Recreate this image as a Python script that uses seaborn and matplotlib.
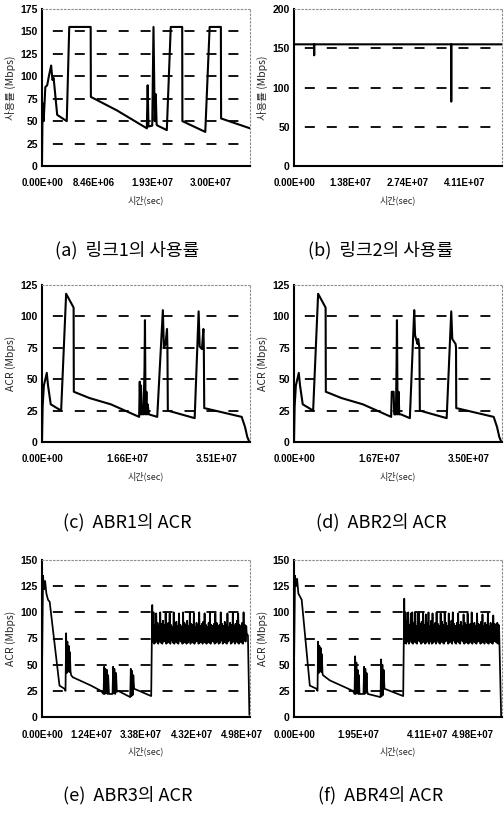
import numpy as np
import matplotlib
matplotlib.use("Agg")
import matplotlib.pyplot as plt
import seaborn as sns

# x values are positions along the (category-like) time axis, 0-100
# (a) link 1 utilisation
a_t = [0, 0.3, 0.8, 1.6, 2.5, 3.3, 4.4, 5.0, 5.6, 7.3,
       11.9, 13.1, 23.4, 23.5, 26, 36, 50.4, 50.8, 51.2, 53.0,
       53.6, 54.2, 54.7, 55.1, 55.6, 60, 61.9, 67.4, 67.5, 78.5,
       80.6, 86.0, 86.1, 100]
a_rate = [5, 70, 50, 88, 90, 100, 112, 96, 98, 57,
          50, 155, 155, 77, 74, 62, 42, 90, 44, 45,
          155, 50, 80, 46, 45, 40, 155, 155, 50, 38,
          155, 155, 53, 42]

# (b) link 2 utilisation
b_t = [0, 9.6, 9.7, 9.8, 75.5, 75.6, 75.7, 100]
b_rate = [155, 155, 141, 155, 155, 82, 155, 155]

# (c) ABR1 ACR
c_t = [0, 0.3, 0.9, 2.3, 2.9, 4.2, 9.2, 11.6, 15.2, 15.3,
       22.8, 33.1, 46.7, 47.0, 47.3, 47.6, 48.0, 48.3, 48.8, 49.3,
       49.5, 49.8, 50.2, 50.5, 50.8, 51.4, 55.4, 58.1, 58.6, 59.4,
       60.1, 60.3, 60.5, 73.4, 75.3, 75.8, 76.9, 77.6, 77.8, 78.0,
       96.0, 97.6, 98.7, 99.7]
c_acr = [0, 28, 45, 55, 45, 30, 25, 118, 107, 40,
         35, 30, 20, 48, 22, 45, 22, 28, 22, 60,
         97, 22, 40, 22, 30, 22, 20, 105, 75, 78,
         90, 75, 25, 19, 104, 76, 74, 90, 75, 27,
         20, 12, 4, 0]

# (d) ABR2 ACR
d_t = [0, 0.3, 0.9, 2.3, 2.9, 4.2, 9.2, 11.6, 15.2, 15.3,
       22.8, 33.1, 46.7, 47.0, 47.9, 48.2, 49.0, 49.3, 49.5, 49.8,
       50.3, 50.6, 51.4, 55.7, 57.8, 58.2, 59.4, 59.7, 60.3, 60.5,
       73.4, 75.6, 76.1, 76.9, 77.7, 77.9, 78.0, 96.0, 97.6, 98.7,
       99.7]
d_acr = [0, 28, 45, 55, 45, 30, 25, 118, 107, 40,
         35, 30, 20, 40, 40, 22, 22, 60, 97, 22,
         40, 22, 22, 19, 105, 85, 78, 82, 75, 25,
         19, 104, 82, 80, 78, 75, 27, 20, 12, 4,
         0]

# (e) ABR3 ACR
e_t = [0, 0.5, 1.0, 1.5, 2.1, 2.9, 3.7, 8.4, 10.8, 11.3,
       11.6, 11.9, 12.2, 12.5, 12.8, 13.1, 13.4, 13.7, 14.0,
       14.8, 23.6, 28.3, 29.6,
       29.9, 30.2, 30.5, 30.8, 31.2, 31.5, 31.8, 32.2, 32.8,
       33.9, 34.2, 34.5, 34.8, 35.2, 35.6, 36.0, 36.6,
       42.4, 42.7, 43.0, 43.3, 43.6, 43.9, 44.3, 52.5, 53.0]
e_acr = [40, 135, 122, 130, 118, 112, 110, 30, 27, 25,
         80, 42, 72, 45, 68, 43, 62, 44, 40,
         38, 30, 25, 22,
         48, 22, 46, 23, 45, 22, 40, 22, 22,
         22, 48, 23, 46, 22, 42, 24, 25,
         19, 46, 20, 44, 21, 40, 27, 20, 107]
e_band_hi = [100, 88, 99, 90, 87, 100, 89, 92, 88, 100,
             87, 90, 99, 88, 86, 100, 89, 91, 87, 99,
             88, 86, 100, 90, 88, 92, 87, 100, 89, 88,
             99, 86, 90, 88, 100, 87, 89, 91, 99, 88,
             86, 90, 100, 88, 87, 89, 99, 90, 86, 88,
             100, 89, 87, 91, 88, 99, 86, 90, 88, 100,
             87, 89, 92, 99, 88, 86, 90, 100, 88, 87]
e_band_lo = [72, 70, 71, 73, 70, 72, 71, 70, 72, 73,
             70, 71, 72, 70, 73, 71, 70, 72, 71, 70,
             73, 72, 70, 71, 72, 70, 71, 73, 70, 72,
             71, 70, 72, 73, 70, 71, 72, 70, 73, 71,
             70, 72, 71, 70, 73, 72, 70, 71, 72, 70,
             71, 73, 70, 72, 71, 70, 72, 73, 70, 71,
             72, 70, 73, 71, 70, 72, 71, 70, 73, 72]
e_tail_t = [98.4, 99.0, 99.7]
e_tail_acr = [80, 78, 2]

# (f) ABR4 ACR
f_t = [0, 0.5, 1.0, 1.5, 2.1, 2.9, 3.7, 7.6, 10.8, 11.3,
       11.6, 11.9, 12.2, 12.5, 12.8, 13.1, 13.4, 13.7, 13.9,
       17.2, 22.8, 28.3, 29.1,
       29.4, 29.7, 30.0, 30.3, 30.6, 30.9, 31.2, 31.5, 31.8,
       33.4, 33.7, 34.0, 34.3, 34.6, 34.9, 35.2, 35.5,
       41.6, 41.9, 42.2, 42.5, 42.8, 43.1, 43.5, 52.5, 53.0]
f_acr = [45, 135, 125, 132, 118, 115, 112, 30, 27, 25,
         72, 42, 68, 44, 66, 43, 60, 42, 40,
         35, 30, 25, 22,
         58, 22, 52, 23, 45, 22, 40, 22, 22,
         22, 48, 22, 46, 23, 42, 25, 22,
         19, 55, 20, 50, 21, 45, 27, 20, 113]
f_band_hi = [100, 92, 100, 88, 99, 100, 90, 100, 87, 99,
             100, 89, 91, 100, 88, 98, 90, 100, 87, 92,
             99, 88, 90, 100, 89, 87, 99, 91, 88, 100,
             90, 87, 99, 88, 92, 100, 89, 87, 90, 99,
             88, 91, 87, 98, 90, 88, 99, 87, 89, 100,
             88, 90, 87, 99, 89, 88, 91, 98, 87, 90,
             88, 99, 87, 90, 88, 97, 89, 87, 90, 88]
f_band_lo = [71, 70, 72, 70, 73, 71, 70, 72, 71, 70,
             73, 72, 70, 71, 72, 70, 71, 73, 70, 72,
             70, 71, 72, 70, 73, 71, 70, 72, 71, 70,
             72, 73, 70, 71, 72, 70, 73, 71, 70, 72,
             71, 70, 73, 72, 70, 71, 72, 70, 71, 73,
             70, 72, 71, 70, 72, 73, 70, 71, 72, 70,
             73, 71, 70, 72, 71, 70, 73, 72, 71, 70]
f_tail_t = [98.6, 99.6]
f_tail_acr = [85, 0]

# tick labels (positions on the 0-100 axis)
a_xticks = [0, 25, 53, 81]
a_xlabels = ["0.00E+00", "8.46E+06", "1.93E+07", "3.00E+07"]
b_xticks = [0, 27, 54.7, 82]
b_xlabels = ["0.00E+00", "1.38E+07", "2.74E+07", "4.11E+07"]
c_xticks = [0, 41, 84]
c_xlabels = ["0.00E+00", "1.66E+07", "3.51E+07"]
d_xticks = [0, 41, 84]
d_xlabels = ["0.00E+00", "1.67E+07", "3.50E+07"]
e_xticks = [0, 23.5, 47.5, 72, 96]
e_xlabels = ["0.00E+00", "1.24E+07", "3.38E+07", "4.32E+07", "4.98E+07"]
f_xticks = [0, 31, 64, 96]
f_xlabels = ["0.00E+00", "1.95E+07", "4.11E+07", "4.98E+07"]

captions = ["(a)  링크1의 사용률", "(b)  링크2의 사용률",
            "(c)  ABR1의 ACR", "(d)  ABR2의 ACR",
            "(e)  ABR3의 ACR", "(f)  ABR4의 ACR"]


def with_band(t, y, hi, lo, tail_t, tail_y):
    # dense oscillation section: alternating trough / peak samples
    bt = np.linspace(t[-1] + 0.3, tail_t[0] - 0.2, 2 * len(hi))
    by = np.ravel(np.column_stack([lo, hi]))
    return (np.concatenate([t, bt, tail_t]), np.concatenate([y, by, tail_y]))


e_x, e_y = with_band(e_t, e_acr, e_band_hi, e_band_lo, e_tail_t, e_tail_acr)
f_x, f_y = with_band(f_t, f_acr, f_band_hi, f_band_lo, f_tail_t, f_tail_acr)

sns.set_theme(style="white")
plt.rcParams["font.family"] = ["Liberation Sans Narrow", "Liberation Sans", "DejaVu Sans"]
plt.rcParams["lines.scale_dashes"] = False
KR = ["Noto Sans CJK KR", "DejaVu Sans"]

fig = plt.figure(figsize=(5.04, 8.14), dpi=100)
W, H = 504, 814

panels = [
    (a_t, a_rate, 175, 25, a_xticks, a_xlabels, "사용률 (Mbps)", 42, 9),
    (b_t, b_rate, 200, 50, b_xticks, b_xlabels, "사용률 (Mbps)", 294, 9),
    (c_t, c_acr, 125, 25, c_xticks, c_xlabels, "ACR (Mbps)", 42, 285),
    (d_t, d_acr, 125, 25, d_xticks, d_xlabels, "ACR (Mbps)", 294, 285),
    (e_x, e_y, 150, 25, e_xticks, e_xlabels, "ACR (Mbps)", 42, 560),
    (f_x, f_y, 150, 25, f_xticks, f_xlabels, "ACR (Mbps)", 294, 560),
]

for i, (x, y, ymax, ystep, xt, xl, ylab, left, top) in enumerate(panels):
    ax = fig.add_axes([left / W, 1 - (top + 157) / H, 208 / W, 157 / H])
    levels = list(range(0, ymax + 1, ystep))
    for lev in levels[1:-1]:
        ax.axhline(lev, color="black", linewidth=1.3,
                   linestyle=(8, (7.2, 8.6)), zorder=1)
    sns.lineplot(x=np.asarray(x, dtype=float), y=np.asarray(y, dtype=float),
                 ax=ax, color="black", linewidth=1.25 if i >= 4 else 1.5,
                 estimator=None, sort=False, zorder=3)
    ax.set_xlim(0, 100)
    ax.set_ylim(0, ymax)
    ax.set_yticks(levels)
    ax.set_xticks(xt)
    ax.set_xticklabels(xl)
    ax.tick_params(axis="x", direction="in", length=3, width=1, pad=9,
                   labelsize=7, colors="black")
    ax.tick_params(axis="y", direction="in", length=0, pad=3,
                   labelsize=7.5, colors="black")
    for lbl in ax.get_xticklabels() + ax.get_yticklabels():
        lbl.set_fontweight("bold")
    if i == 5:
        # last label sits at the figure's right edge
        ax.get_xticklabels()[-1].set_horizontalalignment("right")
        ax.get_xticklabels()[-1].set_x(1.0)
    ax.set_ylabel(ylab, family=KR, fontsize=7.5, labelpad=3)
    ax.set_xlabel("시간(sec)", family=KR, fontsize=6.5, labelpad=5)
    for side in ("left", "bottom"):
        ax.spines[side].set_color("black")
        ax.spines[side].set_linewidth(1.5)
    for side in ("top", "right"):
        ax.spines[side].set_color("0.55")
        ax.spines[side].set_linewidth(0.8)
        ax.spines[side].set_linestyle(":")

cap_y = [250, 250, 522, 522, 795, 795]
cap_x = [127, 381, 127, 381, 128, 381]
for cap, cx, cy in zip(captions, cap_x, cap_y):
    fig.text(cx / W, 1 - cy / H, cap, family=KR, fontsize=13,
             ha="center", va="center", color="black")

fig.savefig("out.png", dpi=100)
